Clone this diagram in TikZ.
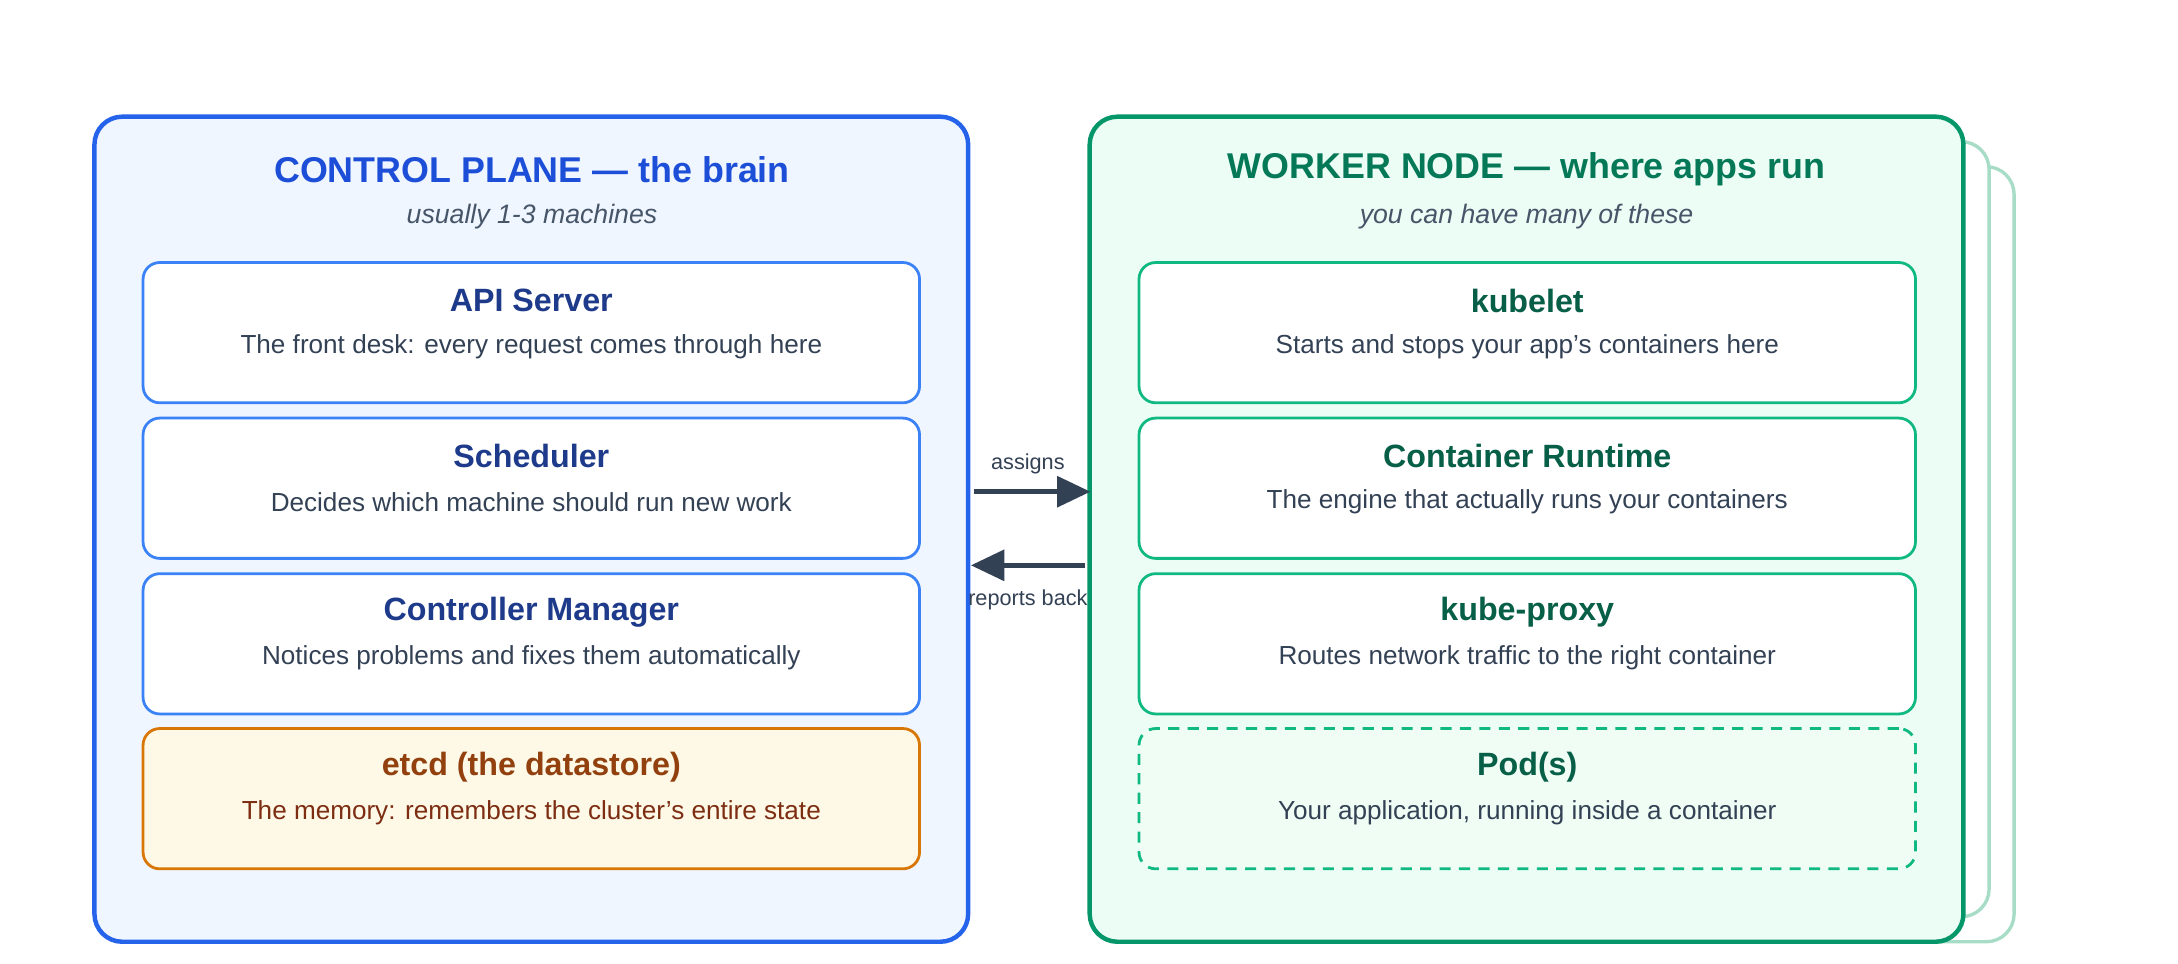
\documentclass[tikz,border=0pt]{standalone}
\usepackage{fontspec}
\defaultfontfeatures{}
\setmainfont{Liberation Sans}
\usetikzlibrary{arrows.meta}
\definecolor{cpB}{HTML}{2563EB}\definecolor{cpF}{HTML}{EFF6FF}\definecolor{cpT}{HTML}{1D4ED8}
\definecolor{ciB}{HTML}{3B82F6}\definecolor{ciT}{HTML}{1E3A8A}
\definecolor{wnB}{HTML}{059669}\definecolor{wnF}{HTML}{ECFDF5}\definecolor{wnT}{HTML}{047857}
\definecolor{wiB}{HTML}{10B981}\definecolor{wiT}{HTML}{065F46}\definecolor{podF}{HTML}{F0FDF4}
\definecolor{shB}{HTML}{A7DCC6}
\definecolor{etF}{HTML}{FEF9E7}\definecolor{etB}{HTML}{D97706}\definecolor{etT}{HTML}{92400E}\definecolor{etD}{HTML}{7C2D12}
\definecolor{txt}{HTML}{334155}\definecolor{sub}{HTML}{475569}
\tikzset{
 outer/.style={draw,line width=1.6pt,rounded corners=10pt,minimum width=314.5pt,minimum height=297pt,inner sep=0pt},
 shadowbox/.style={draw=shB,fill=white,line width=1.2pt,rounded corners=10pt,minimum width=314.5pt,minimum height=279pt,inner sep=0pt},
 inner/.style={draw,line width=1pt,rounded corners=6pt,minimum width=279.5pt,minimum height=50.5pt,inner sep=0pt,fill=white},
 ttl/.style={font=\bfseries\fontsize{12.9}{14}\selectfont},
 subt/.style={font=\itshape\fontsize{9.6}{11}\selectfont,text=sub},
 hd/.style={font=\bfseries\fontsize{11.6}{13}\selectfont},
 ds/.style={font=\fontsize{9.4}{11}\selectfont,text=txt},
 arr/.style={draw=txt,line width=1.6pt,-{Triangle[length=12pt,width=11pt]}},
 lb/.style={font=\fontsize{7.8}{9}\selectfont,text=txt}
}
\begin{document}
\begin{tikzpicture}[x=0.5pt,y=-0.5pt]
\useasboundingbox (0,0) rectangle (1568,694);
% control plane
\node[outer,draw=cpB,fill=cpF] (cp) at (382.5,381) {};
\node[ttl,text=cpT] (cpt) at (383,122) {CONTROL PLANE — the brain};
\node[subt] (cps) at (383,156) {usually 1-3 machines};
\foreach \n/\y/\t/\d in {api/239.5/API Server/The front desk: every request comes through here,
 sch/351.5/Scheduler/Decides which machine should run new work,
 cm/463.5/Controller Manager/Notices problems and fixes them automatically}{
 \node[inner,draw=ciB] (\n) at (382.5,\y) {};
 \node[hd,text=ciT] (\n t) at (382.5,\y-23) {\t};
 \node[ds] (\n d) at (382.5,\y+10) {\d};
}
\node[inner,draw=etB,fill=etF] (etcd) at (382.5,575) {};
\node[hd,text=etT] (etcdt) at (382.5,552) {etcd (the datastore)};
\node[ds,text=etD] (etcdd) at (382.5,585) {The memory: remembers the cluster's entire state};
% worker
\node[shadowbox] (sh2) at (1135.5,399) {};
\node[shadowbox] (sh1) at (1117.5,381) {};
\node[outer,draw=wnB,fill=wnF] (wn) at (1099,381) {};
\node[ttl,text=wnT] (wnt) at (1099,122) {WORKER NODE — where apps run};
\node[subt] (wns) at (1099,156) {you can have many of these};
\foreach \n/\y/\t/\d in {kl/239.5/kubelet/Starts and stops your app's containers here,
 cr/351.5/Container Runtime/The engine that actually runs your containers,
 kp/463.5/kube-proxy/Routes network traffic to the right container}{
 \node[inner,draw=wiB] (\n) at (1099.5,\y) {};
 \node[hd,text=wiT] (\n t) at (1099.5,\y-23) {\t};
 \node[ds] (\n d) at (1099.5,\y+10) {\d};
}
\node[inner,draw=wiB,fill=podF,dashed,dash pattern=on 4pt off 3pt] (pod) at (1099.5,575) {};
\node[hd,text=wiT] (podt) at (1099.5,552) {Pod(s)};
\node[ds] (podd) at (1099.5,585) {Your application, running inside a container};
% arrows
\coordinate (a1) at (701,354); \coordinate (a2) at (785,354);
\coordinate (b1) at (781,407); \coordinate (b2) at (699,407);
\draw[arr] (a1) -- (a2);
\draw[arr] (b1) -- (b2);
\node[lb] (la) at (740,334) {assigns};
\node[lb] (lr) at (740,432) {reports back};
\end{tikzpicture}
\end{document}
